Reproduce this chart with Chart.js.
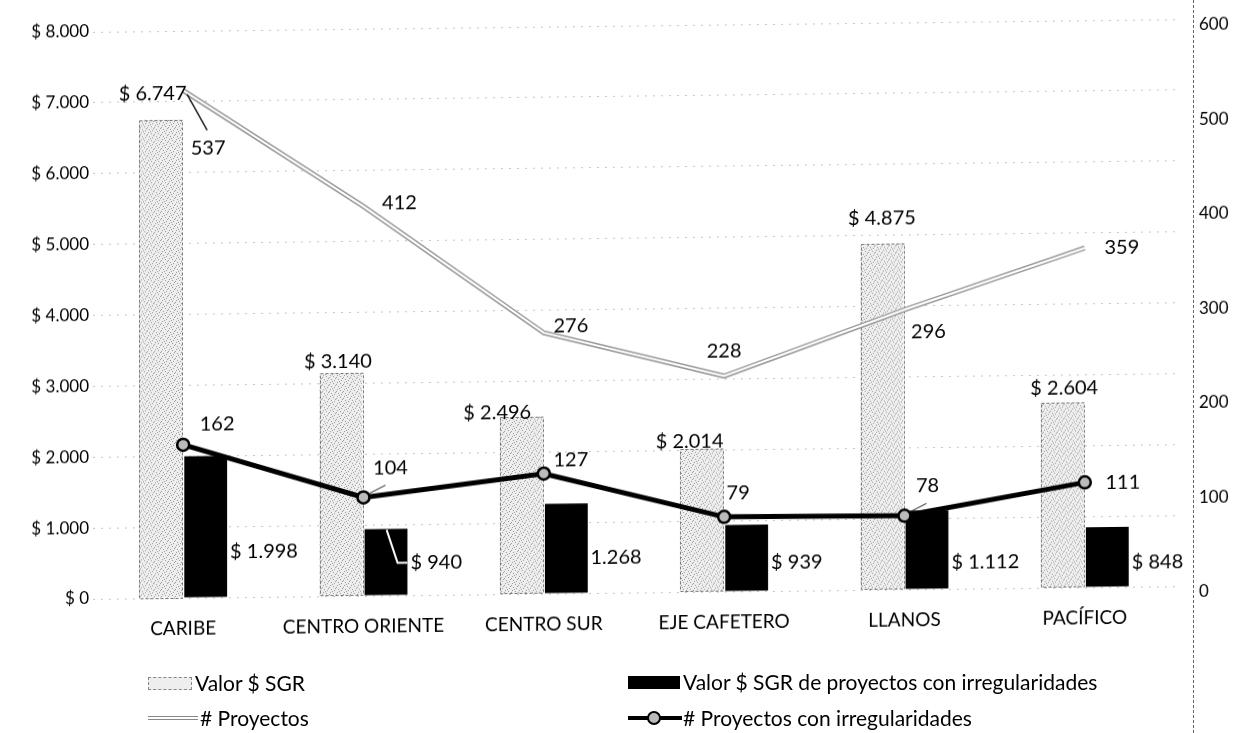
<!DOCTYPE html>
<html>
<head>
<meta charset="utf-8">
<script src="https://cdn.jsdelivr.net/npm/chart.js@4.4.0/dist/chart.umd.min.js"></script>
<style>
  html, body { margin: 0; padding: 0; background: #fff; overflow: hidden; }
  #lienzo { position: absolute; left: 0; top: 0; width: 1237px; height: 733px;
            transform: skewY(-0.67deg); transform-origin: 0 0; }
  #eje2 { position: absolute; left: 1193px; top: 0; height: 733px; border-left: 1px dashed #666; }
  .ley { position: absolute; font-family: Lato, sans-serif; font-size: 21px; color: #000; line-height: 24px; white-space: nowrap; }
  .caja { position: absolute; }
</style>
</head>
<body>
<div id="lienzo"><canvas id="grafico" width="1237" height="733"></canvas></div>
<div id="eje2"></div>

<div class="caja" style="left:148px;top:677px;width:42px;height:11px;border:1px dashed #888;background:#eee;"></div>
<div class="ley" style="left:195px;top:671px;">Valor $ SGR</div>

<div class="caja" style="left:148px;top:716px;width:50px;height:2px;border-top:1px solid #888;border-bottom:1px solid #888;background:#fff;"></div>
<div class="ley" style="left:200px;top:706px;"># Proyectos</div>

<div class="caja" style="left:628px;top:676px;width:52px;height:13px;background:#000;"></div>
<div class="ley" style="left:683px;top:670px;">Valor $ SGR de proyectos con irregularidades</div>

<div class="caja" style="left:628px;top:716px;width:54px;height:4px;background:#000;"></div>
<div class="caja" style="left:647px;top:711px;width:10px;height:10px;border:2px solid #000;border-radius:50%;background:#bbb;"></div>
<div class="ley" style="left:683px;top:706px;"># Proyectos con irregularidades</div>

<script>
// datos
const regiones = ['CARIBE', 'CENTRO ORIENTE', 'CENTRO SUR', 'EJE CAFETERO', 'LLANOS', 'PACÍFICO'];
const valorSGR = [6747, 3140, 2496, 2014, 4875, 2604];
const valorIrregular = [1998, 940, 1268, 939, 1112, 848];
const proyectos = [537, 412, 276, 228, 296, 359];
const proyectosIrregular = [162, 104, 127, 79, 78, 111];
const ticksValor = [0, 1000, 2000, 3000, 4000, 5000, 6000, 7000, 8000];
const ticksProyectos = [0, 100, 200, 300, 400, 500, 600];

// desplazamiento de las etiquetas (como quedaron en el original)
const etqSGR = [[-8, -26], [-3, -12], [-24, -5], [-12, -8], [0, -26], [2, -15]];
const etqIrregular = [[0, -45], [0, -32], [-17, -35], [0, -28], [0, -26], [0, -24]];
const etqProy = [[25, 58], [36, -3], [27, -7], [0, -25], [24, 22], [37, 0]];
const etqProyIrr = [[34, -20], [27, -29], [27, -13], [14, -24], [23, -30], [38, 0]];

function dinero(v) {
    return '$ ' + String(v).replace(/\B(?=(\d{3})+(?!\d))/g, '.');
}

function trama() {
    let c = document.createElement('canvas');
    c.width = 7; c.height = 7;
    let g = c.getContext('2d');
    g.fillStyle = '#eeeeee';
    g.fillRect(0, 0, 7, 7);
    g.fillStyle = '#9c9c9c';
    [[1, 1], [4, 2], [2, 5], [6, 4], [5, 6], [0, 3], [3, 0]].forEach(p => g.fillRect(p[0], p[1], 1, 1));
    return g.createPattern(c, 'repeat');
}

const fuente = 'Lato, sans-serif';

const etiquetas = {
    id: 'etiquetas',
    beforeDatasetsDraw(chart) {
        // las del valor irregular quedan detras de su barra
        let ctx = chart.ctx;
        ctx.save();
        ctx.font = '20px ' + fuente;
        ctx.fillStyle = '#000';
        ctx.textBaseline = 'middle';
        ctx.textAlign = 'left';
        chart.getDatasetMeta(1).data.forEach((b, i) => {
            ctx.fillText(dinero(valorIrregular[i]), b.x + b.width / 2 + 3 + etqIrregular[i][0], b.base + etqIrregular[i][1]);
        });
        ctx.restore();
    },
    afterDatasetDraw(chart, args) {
        if (args.index !== 0) return;
        let ctx = chart.ctx;
        ctx.save();
        ctx.strokeStyle = '#777';
        ctx.lineWidth = 1;
        ctx.setLineDash([3, 2]);
        args.meta.data.forEach(b => {
            ctx.strokeRect(Math.round(b.x - b.width / 2) + 0.5, Math.round(b.y) + 0.5, Math.round(b.width), Math.round(b.base - b.y));
        });
        ctx.restore();
    },
    afterDatasetsDraw(chart) {
        let ctx = chart.ctx;
        ctx.save();
        ctx.font = '20px ' + fuente;
        ctx.fillStyle = '#000';
        ctx.textBaseline = 'middle';
        ctx.textAlign = 'center';
        chart.getDatasetMeta(0).data.forEach((b, i) => {
            ctx.fillText(dinero(valorSGR[i]), b.x + etqSGR[i][0], b.y + etqSGR[i][1]);
        });
        chart.getDatasetMeta(2).data.forEach((p, i) => {
            ctx.fillText(String(proyectos[i]), p.x + etqProy[i][0], p.y + etqProy[i][1]);
        });
        chart.getDatasetMeta(4).data.forEach((p, i) => {
            ctx.fillText(String(proyectosIrregular[i]), p.x + etqProyIrr[i][0], p.y + etqProyIrr[i][1]);
        });

        // lineas guia
        let p0 = chart.getDatasetMeta(2).data[0];
        ctx.strokeStyle = '#222';
        ctx.lineWidth = 1.5;
        ctx.beginPath();
        ctx.moveTo(p0.x + 4, p0.y + 4);
        ctx.lineTo(p0.x + 24, p0.y + 40);
        ctx.stroke();
        let q1 = chart.getDatasetMeta(4).data[1];
        let q4 = chart.getDatasetMeta(4).data[4];
        ctx.lineWidth = 1;
        [q1, q4].forEach(q => {
            ctx.beginPath();
            ctx.moveTo(q.x + 6, q.y - 4);
            ctx.lineTo(q.x + 22, q.y - 12);
            ctx.stroke();
        });
        let b1 = chart.getDatasetMeta(1).data[1];
        ctx.strokeStyle = '#fff';
        ctx.lineWidth = 2;
        ctx.beginPath();
        ctx.moveTo(b1.x - b1.width / 2 + 22, b1.y + 1);
        ctx.lineTo(b1.x - b1.width / 2 + 33, b1.base + etqIrregular[1][1]);
        ctx.lineTo(b1.x + b1.width / 2, b1.base + etqIrregular[1][1]);
        ctx.stroke();
        ctx.restore();
    }
};

let ctx = document.getElementById('grafico');
let myChart = new Chart(ctx, {
    data: {
        labels: regiones,
        datasets: [{
            type: 'bar',
            label: 'Valor $ SGR',
            data: valorSGR,
            backgroundColor: trama(),
            yAxisID: 'y',
            order: 4
        }, {
            type: 'bar',
            label: 'Valor $ SGR de proyectos con irregularidades',
            data: valorIrregular,
            backgroundColor: '#000',
            yAxisID: 'y',
            order: 5
        }, {
            type: 'line',
            label: '# Proyectos',
            data: proyectos,
            borderColor: '#9a9a9a',
            borderWidth: 5,
            pointRadius: 0,
            tension: 0,
            yAxisID: 'y1',
            order: 3
        }, {
            type: 'line',
            label: '',
            data: proyectos,
            borderColor: '#fff',
            borderWidth: 2,
            pointRadius: 0,
            tension: 0,
            yAxisID: 'y1',
            order: 2
        }, {
            type: 'line',
            label: '# Proyectos con irregularidades',
            data: proyectosIrregular,
            borderColor: '#000',
            borderWidth: 5,
            pointRadius: 6,
            pointBackgroundColor: '#bbb',
            pointBorderColor: '#000',
            pointBorderWidth: 2.5,
            tension: 0,
            yAxisID: 'y1',
            order: 1
        }]
    },
    options: {
        responsive: false,
        animation: false,
        layout: { padding: { top: 33, left: 0, right: 0, bottom: 0 } },
        datasets: {
            bar: { categoryPercentage: 0.5, barPercentage: 0.95 }
        },
        plugins: {
            legend: { display: false },
            tooltip: { enabled: false }
        },
        scales: {
            x: {
                grid: { display: false },
                border: { display: false },
                ticks: { color: '#000', font: { family: fuente, size: 19 }, padding: 11, maxRotation: 0 },
                afterFit: s => { s.height = 133; }
            },
            y: {
                position: 'left',
                min: 0,
                max: 8000,
                afterBuildTicks: s => { s.ticks = ticksValor.map(v => ({ value: v })); },
                ticks: { color: '#000', font: { family: fuente, size: 17 }, padding: 4, callback: v => dinero(v) },
                grid: { color: '#c4c4c4', drawTicks: false },
                border: { display: false, dash: [2, 6] },
                afterFit: s => { s.width = 93; }
            },
            y1: {
                position: 'right',
                min: 0,
                max: 600,
                afterBuildTicks: s => { s.ticks = ticksProyectos.map(v => ({ value: v })); },
                ticks: { color: '#000', font: { family: fuente, size: 17 }, padding: 16, labelOffset: 6 },
                grid: { display: false },
                border: { display: false },
                afterFit: s => { s.width = 62; }
            }
        }
    },
    plugins: [etiquetas]
});
</script>
</body>
</html>
